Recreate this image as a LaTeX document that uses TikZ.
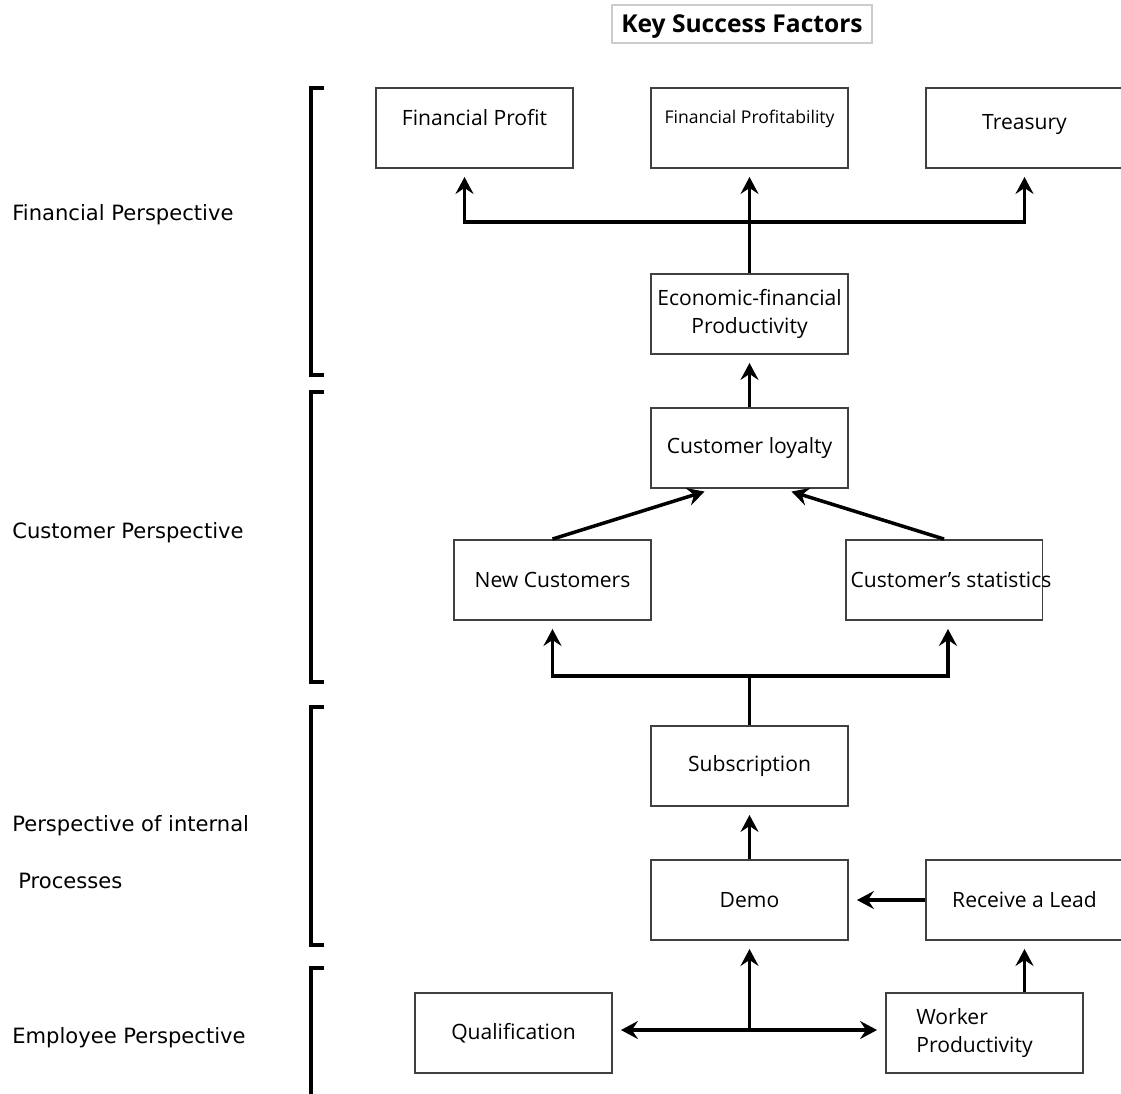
\documentclass[tikz,border=0pt]{standalone}
\usepackage{fontspec}
\setmainfont{Open Sans}
\newfontfamily\sidefont{DejaVu Sans}
\usetikzlibrary{arrows.meta,calc}

\begin{document}
\begin{tikzpicture}[
  x=0.02cm, y=-0.02cm,
  every node/.style={
    rectangle,
  },
  box/.style={draw=black!75, line width=1.1pt, minimum width=3.94cm, minimum height=1.6cm, inner sep=0pt, align=center, font=\fontsize{12}{16}\selectfont},
  side/.style={anchor=west, inner sep=0pt, font=\sidefont\fontsize{12}{14}\selectfont},
  conn/.style={line width=2pt},
  arr/.style={conn, -{Stealth[length=3.4mm,width=3.6mm,inset=1.2mm]}, shorten >=0.16cm},
  bracket/.style={line width=2pt},
]
\useasboundingbox (0,0) rectangle (1121,1093);

% title
\node[draw=black!20, line width=0.8pt, font=\bfseries\fontsize{14}{16}\selectfont, minimum width=5.2cm, minimum height=0.76cm, inner sep=0pt, text depth=0pt] (title) at (742,24) {Key Success Factors};

% perspectives
\node[side] (finpersp) at (12,215) {Financial Perspective};
\node[side] (custpersp) at (12,533) {Customer Perspective};
\node[side] (procpersp) at (12,826) {Perspective of internal};
\node[side] (procpersp2) at (18,881) {Processes};
\node[side] (emplpersp) at (12,1038) {Employee Perspective};

\draw[bracket] (324,88) -- (311,88) -- (311,375) -- (324,375);
\draw[bracket] (324,392) -- (311,392) -- (311,682) -- (324,682);
\draw[bracket] (324,707) -- (311,707) -- (311,945) -- (324,945);
\draw[bracket] (324,968) -- (311,968) -- (311,1100);

% boxes
\node[box, label={[font=\fontsize{12}{16}\selectfont, yshift=0.2cm]center:Financial Profit}] (fprofit) at (474.5,128) {};
\node[box, label={[font=\fontsize{10}{12}\selectfont, yshift=0.18cm]center:Financial Profitability}] (fprofity) at (749.5,128) {};
\node[box, label={[font=\fontsize{12}{16}\selectfont, yshift=0.08cm]center:Treasury}] (treasury) at (1024.5,128) {};
\node[box] (econ) at (749.5,314) {Economic-financial\\Productivity};
\node[box] (loyalty) at (749.5,448) {Customer loyalty};
\node[box] (newcust) at (552.5,580) {New Customers};
\node[box, label={[font=\fontsize{12}{16}\selectfont, xshift=0.14cm]center:Customer’s statistics}] (custstat) at (944,580) {};
\node[box] (subscr) at (749.5,766) {Subscription};
\node[box] (demo) at (749.5,900) {Demo};
\node[box] (lead) at (1024.5,900) {Receive a Lead};
\node[box] (qualif) at (513.5,1033) {Qualification};
\node[box, label={[align=left, font=\fontsize{12}{16}\selectfont, xshift=-0.2cm]center:Worker\\Productivity}] (worker) at (984.5,1033) {};

% connectors
\coordinate (fjoin) at (749.5,222);
\draw[arr] (econ.north) -- (fprofity.south);
\draw[arr] (fjoin) -| ($(fprofit.south)+(-10,0)$);
\draw[arr] (fjoin) -| (treasury.south);

\draw[arr] (loyalty.north) -- (econ.south);
\draw[arr, shorten >=0.04cm] (newcust.north) -- ($(loyalty.south)+(-43,2)$);
\draw[arr, shorten >=0.04cm] (custstat.north) -- ($(loyalty.south)+(40,2)$);

\coordinate (cjoin) at (749.5,676);
\draw[conn] (subscr.north) -- (cjoin);
\draw[arr] (cjoin) -| (newcust.south);
\draw[arr] (cjoin) -| ($(custstat.south)+(4,0)$);

\draw[arr] (demo.north) -- (subscr.south);
\draw[arr] (lead.west) -- (demo.east);

\coordinate (ejoin) at (749.5,1030);
\draw[arr] (ejoin) -- (demo.south);
\draw[arr] (ejoin) -- (qualif.east |- ejoin);
\draw[arr] (ejoin) -- (worker.west |- ejoin);
\draw[arr] (worker.north -| lead.south) -- (lead.south);
\end{tikzpicture}
\end{document}
